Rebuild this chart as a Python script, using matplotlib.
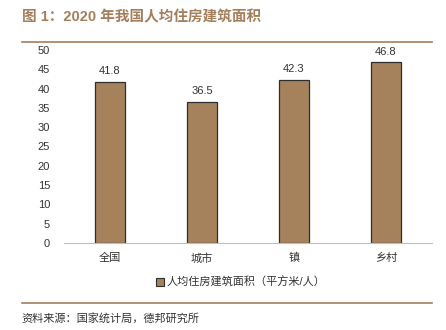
import matplotlib
matplotlib.use("Agg")
import matplotlib.pyplot as plt
from matplotlib.lines import Line2D
from matplotlib.patches import Patch

plt.rcParams['font.family'] = ['Liberation Sans', 'Noto Sans CJK SC', 'DejaVu Sans']

categories = ['全国', '城市', '镇', '乡村']
values = [41.8, 36.5, 42.3, 46.8]
series_name = '人均住房建筑面积（平方米/人）'
title = '图 1：2020 年我国人均住房建筑面积'
source = '资料来源：国家统计局，德邦研究所'

bar_color = '#A5825C'
accent = '#A47E5B'
text_color = '#333333'

fig = plt.figure(figsize=(4.46, 3.30), dpi=100)
ax = fig.add_axes([0.1435, 0.2636, 0.825, 0.585])

x = range(len(categories))
bars = ax.bar(x, values, width=0.32, color=bar_color, edgecolor='#2e2e2e', linewidth=0.9)
for xi, v in zip(x, values):
    ax.text(xi, v + 1.5, f'{v:.1f}', ha='center', va='bottom', fontsize=8, color=text_color)

ax.set_ylim(0, 50)
ax.set_yticks(range(0, 51, 5))
ax.set_xlim(-0.5, len(categories) - 0.5)
ax.set_xticks(list(x))
ax.set_xticklabels(categories, fontsize=8, color=text_color)
ax.tick_params(axis='y', length=0, pad=10, labelsize=8, labelcolor=text_color)
ax.tick_params(axis='x', length=0, pad=7)
for s in ['top', 'right', 'left']:
    ax.spines[s].set_visible(False)
ax.spines['bottom'].set_color('#bfbfbf')
ax.spines['bottom'].set_linewidth(0.8)

handle = Patch(facecolor=bar_color, edgecolor='#2e2e2e', linewidth=0.8)
fig.legend([handle], [series_name], loc='center', bbox_to_anchor=(0.54, 0.145),
           frameon=False, fontsize=8, handlelength=0.7, handleheight=0.7,
           handletextpad=0.2, labelcolor=text_color)

# title and rules
fig.text(0.049, 0.948, title, fontsize=10.5, fontweight='bold', color=accent,
         ha='left', va='center')
fig.add_artist(Line2D([0.049, 0.969], [0.873, 0.873], color=accent, lw=1.2))
fig.add_artist(Line2D([0.049, 0.969], [0.082, 0.082], color=accent, lw=1.2))
fig.text(0.049, 0.035, source, fontsize=8, color=text_color, ha='left', va='center')

fig.savefig('out.png', dpi=100)
